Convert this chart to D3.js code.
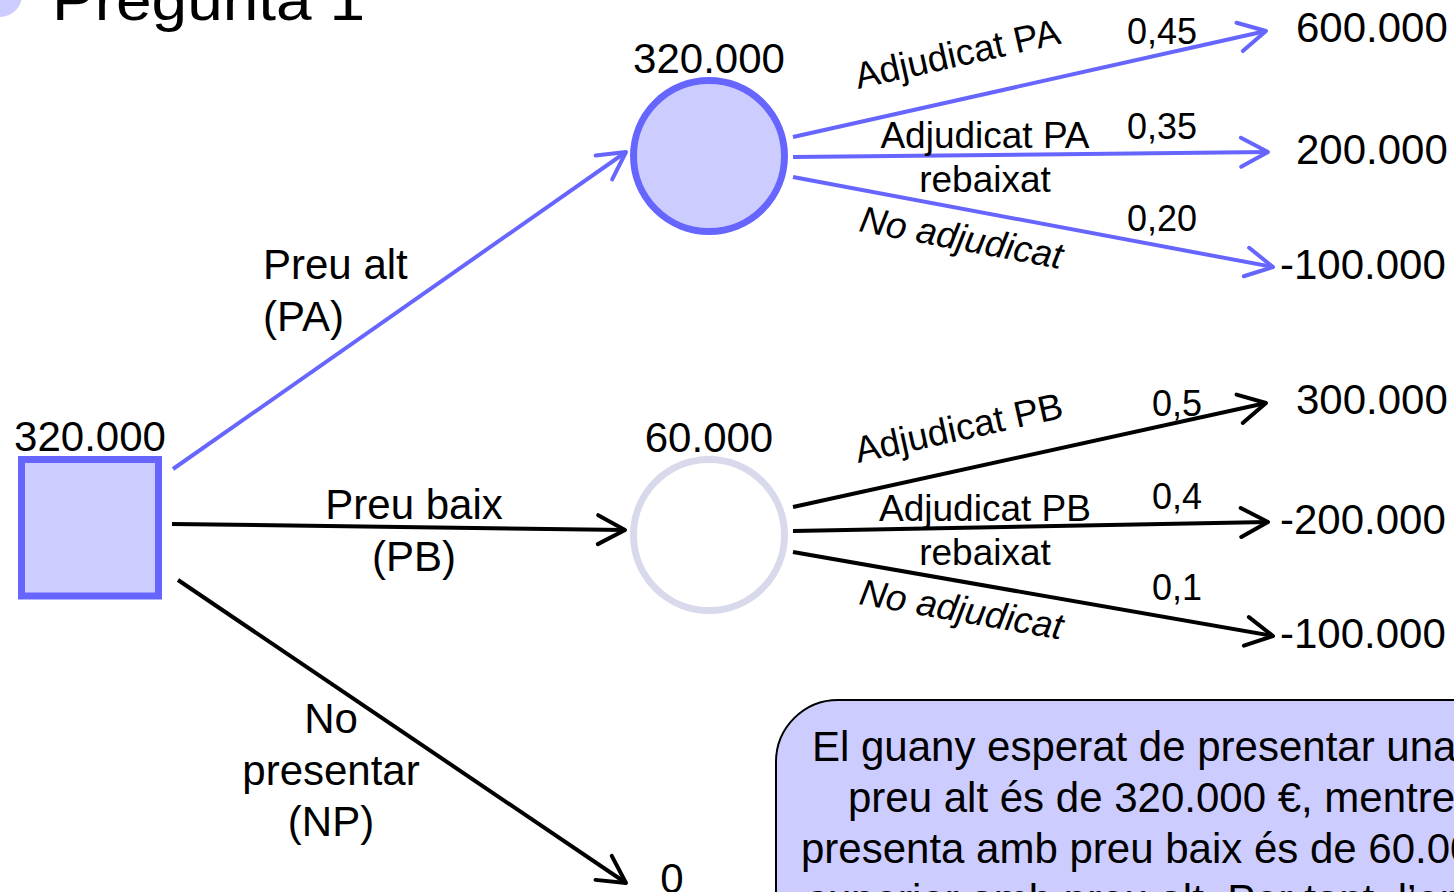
<!DOCTYPE html>
<html>
<head>
<meta charset="utf-8">
<script src="https://cdn.jsdelivr.net/npm/d3@7"></script>
<style>
  body { margin: 0; background: #fff; overflow: hidden; }
  text { font-family: "Liberation Sans", Arial, sans-serif; fill: #000; }
</style>
</head>
<body>
<script>
// decisió inicial
const alternatives = ['PA', 'PB', 'NP'];
const alternativeLabels = [['Preu alt', '(PA)'], ['Preu baix', '(PB)'], ['No', 'presentar', '(NP)']];
const noOfferValue = 0;

// nus d'atzar: preu alt
const outcomesPA = [['Adjudicat PA'], ['Adjudicat PA', 'rebaixat'], ['No adjudicat']];
const probsPA = [0.45, 0.35, 0.20];
const payoffsPA = [600000, 200000, -100000];

// nus d'atzar: preu baix
const outcomesPB = [['Adjudicat PB'], ['Adjudicat PB', 'rebaixat'], ['No adjudicat']];
const probsPB = [0.5, 0.4, 0.1];
const payoffsPB = [300000, -200000, -100000];

window.addEventListener('load', function() {
  const width = 1454, height = 892;
  const blue = '#6666ff', lilac = '#ccccff', pale = '#d9d9ec';

  const locale = d3.formatLocale({ decimal: ',', thousands: '.', grouping: [3], currency: ['', ' €'], minus: '-' });
  const money = locale.format(',');
  const prob2 = locale.format('.2f'), prob1 = locale.format('.1f');

  const ev = (p, v) => d3.sum(p, (d, i) => d * v[i]);
  const evPA = ev(probsPA, payoffsPA), evPB = ev(probsPB, payoffsPB);
  const altValues = [evPA, evPB, noOfferValue];
  const best = d3.max(altValues);

  const svg = d3.select('body').append('svg')
    .attr('width', width)
    .attr('height', height);

  const defs = svg.append('defs');
  function marker(id, color) {
    defs.append('marker')
      .attr('id', id)
      .attr('markerUnits', 'userSpaceOnUse')
      .attr('viewBox', '-40 -20 46 40')
      .attr('markerWidth', 46)
      .attr('markerHeight', 40)
      .attr('refX', 0)
      .attr('refY', 0)
      .attr('orient', 'auto')
      .append('path')
      .attr('d', 'M-27,-14.5L0,0L-27,14.5')
      .attr('fill', 'none')
      .attr('stroke', color)
      .attr('stroke-width', 4)
      .attr('stroke-linecap', 'round')
      .attr('stroke-linejoin', 'round');
  }
  marker('arrow-blue', blue);
  marker('arrow-black', '#000');

  // title (cut off at the top)
  svg.append('circle').attr('cx', 0).attr('cy', -5).attr('r', 22).attr('fill', lilac);
  svg.append('text')
    .attr('x', 52).attr('y', 20)
    .attr('font-size', 58)
    .attr('textLength', 313)
    .attr('lengthAdjust', 'spacingAndGlyphs')
    .text('Pregunta 1');

  // scales for node / branch positions
  const xCol = d3.scaleOrdinal().domain(['decision', 'chance', 'leaf']).range([90, 709, 1270]);
  const yAlt = d3.scaleOrdinal().domain(alternatives).range([156, 535, 883]);
  const yAltStart = d3.scaleOrdinal().domain(alternatives).range([469, 524, 580]);
  const xAltStart = d3.scaleOrdinal().domain(alternatives).range([173, 172, 178]);
  const xAltEnd = d3.scaleOrdinal().domain(alternatives).range([626, 625, 626]);
  const yAltEnd = d3.scaleOrdinal().domain(alternatives).range([152, 530, 883]);
  const rowIdx = [0, 1, 2];
  const yLeafOffset = {
    PA: d3.scaleOrdinal().domain(rowIdx).range([-125, -4, 111]),
    PB: d3.scaleOrdinal().domain(rowIdx).range([-132, -13, 101])
  };
  const yStartOffset = {
    PA: d3.scaleOrdinal().domain(rowIdx).range([-19, 1, 21]),
    PB: d3.scaleOrdinal().domain(rowIdx).range([-28, -4, 17])
  };
  // label offsets from the chance node centre: rotated top, horizontal middle, rotated bottom
  const yLabelOffset = {
    PA: d3.scaleOrdinal().domain(rowIdx).range([-67, -8, 75]),
    PB: d3.scaleOrdinal().domain(rowIdx).range([-72, -14, 69])
  };
  const xTip = d3.scaleOrdinal().domain(rowIdx).range([1266, 1268, 1273]);
  const xValue = d3.scaleOrdinal().domain(['pos', 'neg']).range([1296, 1280]);

  // decision branches
  alternatives.forEach(function(a, i) {
    const color = altValues[i] === best ? blue : '#000';
    svg.append('line')
      .attr('x1', xAltStart(a)).attr('y1', yAltStart(a))
      .attr('x2', xAltEnd(a)).attr('y2', yAltEnd(a))
      .attr('stroke', color)
      .attr('stroke-width', 4)
      .attr('marker-end', 'url(#' + (color === blue ? 'arrow-blue' : 'arrow-black') + ')');
  });

  const altLabelPos = {
    PA: { x: 263, y: 279, anchor: 'start' },
    PB: { x: 414, y: 519, anchor: 'middle' },
    NP: { x: 331, y: 733, anchor: 'middle' }
  };
  alternatives.forEach(function(a, i) {
    const p = altLabelPos[a];
    const t = svg.append('text')
      .attr('font-size', 42)
      .attr('text-anchor', p.anchor);
    alternativeLabels[i].forEach(function(line, j) {
      t.append('tspan').attr('x', p.x).attr('y', p.y + j * 51.5).text(line);
    });
  });

  // decision node
  svg.append('rect')
    .attr('x', 21.5).attr('y', 459.5)
    .attr('width', 137).attr('height', 136.5)
    .attr('fill', lilac)
    .attr('stroke', blue)
    .attr('stroke-width', 7);
  svg.append('text')
    .attr('x', xCol('decision')).attr('y', 451)
    .attr('font-size', 42)
    .attr('text-anchor', 'middle')
    .text(money(best));

  // value of not presenting
  svg.append('text')
    .attr('x', 672).attr('y', 893)
    .attr('font-size', 42)
    .attr('text-anchor', 'middle')
    .text(money(noOfferValue));

  // chance nodes
  const chance = [
    { id: 'PA', outcomes: outcomesPA, probs: probsPA, payoffs: payoffsPA, fmt: prob2, value: evPA },
    { id: 'PB', outcomes: outcomesPB, probs: probsPB, payoffs: payoffsPB, fmt: prob1, value: evPB }
  ];

  chance.forEach(function(c) {
    const cy = yAlt(c.id);
    const isBest = c.value === best;
    const color = isBest ? blue : '#000';
    const x0 = 793;

    c.outcomes.forEach(function(label, k) {
      const y1 = cy + yStartOffset[c.id](k);
      const y2 = cy + yLeafOffset[c.id](k);
      const x2 = xTip(k);
      svg.append('line')
        .attr('x1', x0).attr('y1', y1)
        .attr('x2', x2).attr('y2', y2)
        .attr('stroke', color)
        .attr('stroke-width', 4)
        .attr('marker-end', 'url(#' + (isBest ? 'arrow-blue' : 'arrow-black') + ')');

      // probability
      svg.append('text')
        .attr('x', c.id === 'PA' ? 1127 : 1152)
        .attr('y', y2 + (k === 0 ? 13 : (k === 1 ? -13 : -36)))
        .attr('font-size', 36)
        .text(c.fmt(c.probs[k]));

      // payoff
      const v = c.payoffs[k];
      svg.append('text')
        .attr('x', xValue(v < 0 ? 'neg' : 'pos'))
        .attr('y', y2 + (k === 0 ? 11 : 12))
        .attr('font-size', 42)
        .text(money(v));

      // branch label
      const ly = cy + yLabelOffset[c.id](k);
      if (k === 1) {
        const t = svg.append('text')
          .attr('font-size', 37)
          .attr('text-anchor', 'middle');
        label.forEach(function(line, j) {
          t.append('tspan').attr('x', 985).attr('y', ly + j * 44).text(line);
        });
      } else {
        const angle = Math.atan2(y2 - y1, x2 - x0) * 180 / Math.PI;
        svg.append('text')
          .attr('transform', 'translate(858,' + ly + ') rotate(' + angle + ')')
          .attr('font-size', 37)
          .attr('font-style', k === 2 ? 'italic' : 'normal')
          .text(label[0]);
      }
    });

    svg.append('circle')
      .attr('cx', xCol('chance')).attr('cy', cy)
      .attr('r', 75.5)
      .attr('fill', isBest ? lilac : '#fff')
      .attr('stroke', isBest ? blue : pale)
      .attr('stroke-width', 7);

    svg.append('text')
      .attr('x', xCol('chance')).attr('y', cy - 83)
      .attr('font-size', 42)
      .attr('text-anchor', 'middle')
      .text(money(c.value));
  });

  // conclusion box
  const noteLines = [
    'El guany esperat de presentar una oferta a',
    'preu alt és de ' + money(evPA) + ' €, mentre que si es',
    'presenta amb preu baix és de ' + money(evPB) + ' €, i per',
    'superior amb preu alt. Per tant, l\u2019empresa'
  ];
  const noteX = [812, 848, 801, 807];

  svg.append('rect')
    .attr('x', 776).attr('y', 700)
    .attr('width', 800).attr('height', 300)
    .attr('rx', 62)
    .attr('fill', lilac)
    .attr('stroke', '#000')
    .attr('stroke-width', 2);

  svg.append('g').selectAll('text')
    .data(noteLines)
    .join('text')
    .attr('x', (d, i) => noteX[i])
    .attr('y', (d, i) => 761 + i * 51)
    .attr('font-size', 42)
    .text(d => d);
});
</script>
</body>
</html>
